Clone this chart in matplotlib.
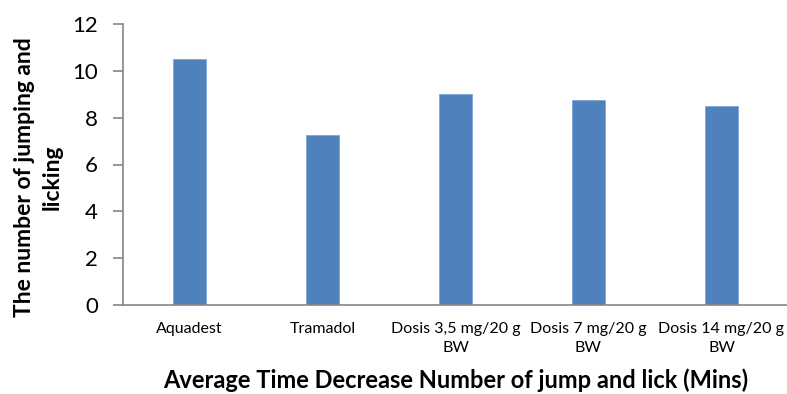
import matplotlib
matplotlib.use("Agg")
import matplotlib.pyplot as plt

categories = ["Aquadest", "Tramadol", "Dosis 3,5 mg/20 g\nBW", "Dosis 7 mg/20 g\nBW", "Dosis 14 mg/20 g\nBW"]
values = [10.5, 7.25, 9.0, 8.75, 8.5]
y_ticks = [0, 2, 4, 6, 8, 10, 12]

plt.rcParams["font.family"] = ["Lato", "DejaVu Sans"]

fig = plt.figure(figsize=(7.87, 3.94), dpi=100)
W, H = 787, 394
ax = fig.add_axes([123 / W, 1 - 305 / H, (788 - 123) / W, (305 - 24) / H])

x = list(range(len(categories)))
ax.bar(x, values, width=0.25, color="#4F81BD", edgecolor="#7EA6D6", linewidth=0.6, zorder=2)

ax.set_xlim(-0.5, len(categories) - 0.5)
ax.set_ylim(0, 12)
ax.set_yticks(y_ticks)
ax.set_yticklabels([str(t) for t in y_ticks], fontsize=16)
ax.set_xticks(x)
ax.set_xticklabels(categories, fontsize=11.5, linespacing=1.45)

gray = "#868686"
for side in ("top", "right"):
    ax.spines[side].set_visible(False)
for side in ("left", "bottom"):
    ax.spines[side].set_color(gray)
    ax.spines[side].set_linewidth(1.2)
ax.tick_params(axis="y", direction="out", length=7, width=1.2, color=gray, pad=11)
ax.tick_params(axis="x", length=0, pad=12)

fig.text(456 / W, 1 - 388 / H, "Average Time Decrease Number of jump and lick (Mins)",
         ha="center", va="baseline", fontsize=17, fontweight="bold")
fig.text(38 / W, 1 - 177 / H, "The number of jumping and\nlicking",
         ha="center", va="center", rotation=90, fontsize=16.5, fontweight="bold",
         linespacing=1.4, multialignment="center")

fig.savefig("out.png", dpi=100)
